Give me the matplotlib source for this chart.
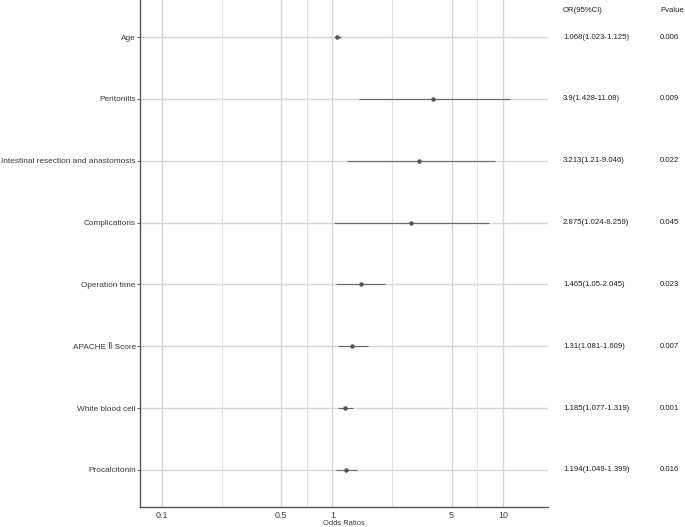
import matplotlib.pyplot as plt
import numpy as np
from matplotlib.transforms import blended_transform_factory

plt.rcParams['font.family'] = ['Liberation Sans', 'DejaVu Sans']

# data
variables = ['Age', 'Peritonitis', 'Intestinal resection and anastomosis', 'Complications',
             'Operation time', 'APACHE \u2161 Score', 'White blood cell', 'Procalcitonin']
odds = [1.068, 3.9, 3.213, 2.875, 1.465, 1.31, 1.185, 1.194]
lower = [1.023, 1.428, 1.21, 1.024, 1.05, 1.081, 1.077, 1.049]
upper = [1.125, 11.08, 9.046, 8.259, 2.045, 1.609, 1.319, 1.399]
or_text = ['1.068(1.023-1.125)', '3.9(1.428-11.08)', '3.213(1.21-9.046)', '2.875(1.024-8.259)',
           '1.465(1.05-2.045)', '1.31(1.081-1.609)', '1.185(1.077-1.319)', '1.194(1.049-1.399)']
pvals = ['0.006', '0.009', '0.022', '0.045', '0.023', '0.007', '0.001', '0.016']

major = [0.1, 0.5, 1, 5, 10]
minor = [np.sqrt(0.1 * 0.5), np.sqrt(0.5), np.sqrt(5), np.sqrt(50)]

fig = plt.figure(figsize=(6.85, 5.27), dpi=100)
ax = fig.add_axes([140 / 685, 20 / 527, 408 / 685, 507 / 527])

y = np.arange(1, len(variables) + 1)
ax.set_xscale('log')
ax.set_xlim(0.0743, 18.4)
ax.set_ylim(len(variables) + 0.6, 0.4)

for v in major:
    ax.axvline(v, color='#d6d6d6', lw=1.0, zorder=0)
for v in minor:
    ax.axvline(v, color='#e2e2e2', lw=0.8, zorder=0)
for yy in y:
    ax.axhline(yy, color='#d6d6d6', lw=1.0, zorder=0)

ax.hlines(y, lower, upper, color='#6a6a6a', lw=0.8, zorder=2)
ax.plot(odds, y, 'o', color='#555555', ms=2.2, zorder=3)

ax.set_xticks(major)
ax.set_xticklabels(['0.1', '0.5', '1', '5', '10'])
ax.xaxis.set_minor_locator(plt.NullLocator())
ax.set_yticks(y)
ax.set_yticklabels(variables)
ax.tick_params(axis='y', length=2.5, width=0.6, color='#444444', labelsize=5.95,
               labelcolor='#3a3a3a', pad=0.5)
ax.tick_params(axis='x', length=0, labelsize=6.4, labelcolor='#3a3a3a', pad=3)
ax.set_xlabel('Odds Ratios', fontsize=5.4, color='#3a3a3a', labelpad=0)

for s in ['top', 'right']:
    ax.spines[s].set_visible(False)
for s in ['left', 'bottom']:
    ax.spines[s].set_color('#555555')
    ax.spines[s].set_linewidth(1.0)

tr = blended_transform_factory(fig.transFigure, ax.transData)
for yy, t, p in zip(y, or_text, pvals):
    ax.text(563 / 685, yy, t, transform=tr, fontsize=5.6, color='#222222',
            va='center', ha='left', clip_on=False)
    ax.text(660 / 685, yy, p, transform=tr, fontsize=5.6, color='#222222',
            va='center', ha='left', clip_on=False)
fig.text(563 / 685, 1 - 10 / 527, 'OR(95%CI)', fontsize=5.6, color='#222222', va='center')
fig.text(660 / 685, 1 - 10 / 527, 'Pvalue', fontsize=5.6, color='#222222', va='center')

fig.savefig('out.png', dpi=100)
